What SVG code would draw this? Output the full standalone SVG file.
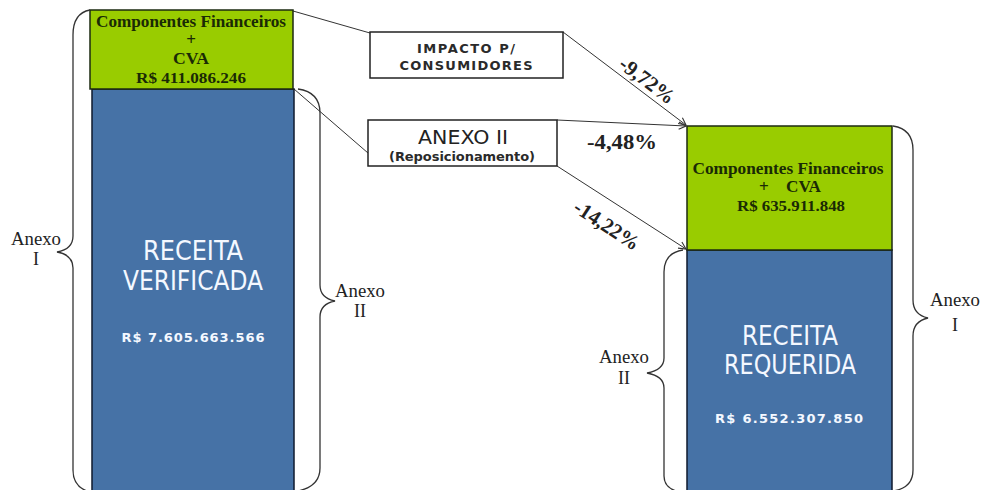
<svg xmlns="http://www.w3.org/2000/svg" width="991" height="490" viewBox="0 0 991 490">
  <defs>
    <marker id="arrow" viewBox="0 0 10 10" refX="9" refY="5" markerWidth="9" markerHeight="9" markerUnits="userSpaceOnUse" orient="auto">
      <path d="M1,1 L9,5 L1,9" fill="none" stroke="#333" stroke-width="1.2"/>
    </marker>
  </defs>
  <style>
    .green { fill: #99cc00; stroke: #1c2a10; stroke-width: 1.5; }
    .blue { fill: #4672a6; stroke: #0f1a2e; stroke-width: 1.5; }
    .label { fill: #ffffff; stroke: #222; stroke-width: 1.5; }
    .brace { fill: none; stroke: #333; stroke-width: 1.3; }
    .conn { fill: none; stroke: #333; stroke-width: 1; }
    .fin { font-family: "Liberation Serif", "Times New Roman", serif; font-weight: bold; font-size: 17px; fill: #1a2a05; text-anchor: middle; }
    .fin-s { font-size: 15px; }
    .big { font-family: "DejaVu Sans Condensed", "DejaVu Sans", sans-serif; font-size: 27px; fill: #f4f8ff; text-anchor: middle; }
    .val { font-family: "DejaVu Sans", sans-serif; font-weight: bold; font-size: 13px; fill: #f4f8ff; text-anchor: middle; }
    .ann { font-family: "Liberation Serif", "Times New Roman", serif; font-size: 18px; fill: #222; text-anchor: middle; }
    .box { font-family: "DejaVu Sans", sans-serif; font-weight: bold; font-size: 13px; fill: #2a2a2a; text-anchor: middle; }
    .pct { font-family: "Liberation Serif", "Times New Roman", serif; font-weight: bold; font-size: 21px; fill: #222; text-anchor: middle; }
  </style>
  <rect width="991" height="490" fill="#ffffff"/>

  <!-- Connectors -->
  <g id="connectors">
    <line class="conn" x1="293" y1="11" x2="370" y2="33"/>
    <line class="conn" x1="294" y1="89" x2="368" y2="153"/>
    <line class="conn" x1="563" y1="32" x2="686" y2="125" marker-end="url(#arrow)"/>
    <line class="conn" x1="557" y1="120" x2="686" y2="126" marker-end="url(#arrow)"/>
    <line class="conn" x1="557" y1="166" x2="686" y2="249" marker-end="url(#arrow)"/>
    <text class="pct" transform="translate(643,86) rotate(37)" textLength="64" lengthAdjust="spacingAndGlyphs">-9,72%</text>
    <text class="pct" x="622" y="149" textLength="70" lengthAdjust="spacingAndGlyphs">-4,48%</text>
    <text class="pct" transform="translate(603,231) rotate(33)" textLength="74" lengthAdjust="spacingAndGlyphs">-14,22%</text>
  </g>

  <!-- Left stack -->
  <g id="receita-verificada">
    <rect class="blue" x="92" y="89" width="202" height="410"/>
    <text class="big" x="193" y="260" textLength="100" lengthAdjust="spacingAndGlyphs">RECEITA</text>
    <text class="big" x="193" y="290" textLength="140" lengthAdjust="spacingAndGlyphs">VERIFICADA</text>
    <text class="val" x="193" y="342" textLength="143">R$ 7.605.663.566</text>
  </g>
  <g id="financeiros-verificada">
    <rect class="green" x="90" y="10" width="203" height="79"/>
    <text class="fin" x="191" y="27" textLength="190" lengthAdjust="spacingAndGlyphs">Componentes Financeiros</text>
    <text class="fin" x="191" y="45">+</text>
    <text class="fin" x="191" y="64" textLength="36" lengthAdjust="spacingAndGlyphs">CVA</text>
    <text class="fin fin-s" x="191" y="83" textLength="110" lengthAdjust="spacingAndGlyphs">R$ 411.086.246</text>
  </g>

  <!-- Right stack -->
  <g id="receita-requerida">
    <rect class="blue" x="687" y="250" width="205" height="250"/>
    <text class="big" x="790" y="345" textLength="96" lengthAdjust="spacingAndGlyphs">RECEITA</text>
    <text class="big" x="790" y="374" textLength="132" lengthAdjust="spacingAndGlyphs">REQUERIDA</text>
    <text class="val" x="789" y="423" textLength="148">R$ 6.552.307.850</text>
  </g>
  <g id="financeiros-requerida">
    <rect class="green" x="687" y="126" width="205" height="124"/>
    <text class="fin" x="788" y="174" textLength="191" lengthAdjust="spacingAndGlyphs">Componentes Financeiros</text>
    <text class="fin" x="790" y="192" xml:space="preserve" textLength="62" lengthAdjust="spacingAndGlyphs">+    CVA</text>
    <text class="fin fin-s" x="791" y="211" textLength="108" lengthAdjust="spacingAndGlyphs">R$ 635.911.848</text>
  </g>

  <!-- Callout boxes -->
  <g id="impacto">
    <rect class="label" x="370" y="32" width="193" height="46"/>
    <text class="box" x="466" y="53" textLength="98">IMPACTO P/</text>
    <text class="box" x="466" y="70" textLength="133">CONSUMIDORES</text>
  </g>
  <g id="anexo-ii">
    <rect class="label" x="368" y="120" width="189" height="46"/>
    <text x="463" y="144" font-family="DejaVu Sans, sans-serif" font-size="19" fill="#222" text-anchor="middle" textLength="90" lengthAdjust="spacingAndGlyphs">ANEXO II</text>
    <text class="box" x="462" y="161" font-size="11" textLength="146">(Reposicionamento)</text>
  </g>

  <!-- Braces -->
  <g id="brace-anexo-i-left">
    <path class="brace" d="M90,10 C79,12 73,20 73,35 L73,236 C73,245 68,250 57,252 C68,254 73,259 73,268 L73,470 C73,482 79,489 90,492"/>
    <text class="ann" x="36" y="245" textLength="50" lengthAdjust="spacingAndGlyphs">Anexo</text>
    <text class="ann" x="36" y="265">I</text>
  </g>
  <g id="brace-anexo-ii-left">
    <path class="brace" d="M298,89 C312,91 320,99 320,113 L320,285 C320,294 325,299 335,301 C325,303 320,308 320,317 L320,468 C320,480 312,488 298,491"/>
    <text class="ann" x="360" y="297" textLength="50" lengthAdjust="spacingAndGlyphs">Anexo</text>
    <text class="ann" x="360" y="317">II</text>
  </g>
  <g id="brace-anexo-ii-right">
    <path class="brace" d="M683,250 C670,252 664,260 664,272 L664,358 C664,366 658,371 647,373 C658,375 664,380 664,388 L664,476 C664,485 670,490 680,492"/>
    <text class="ann" x="624" y="363" textLength="50" lengthAdjust="spacingAndGlyphs">Anexo</text>
    <text class="ann" x="624" y="384">II</text>
  </g>
  <g id="brace-anexo-i-right">
    <path class="brace" d="M893,126 C906,128 913,136 913,150 L913,300 C913,310 919,316 928,318 C919,320 913,326 913,336 L913,470 C913,482 906,489 893,491"/>
    <text class="ann" x="955" y="306" textLength="50" lengthAdjust="spacingAndGlyphs">Anexo</text>
    <text class="ann" x="955" y="331">I</text>
  </g>
</svg>
